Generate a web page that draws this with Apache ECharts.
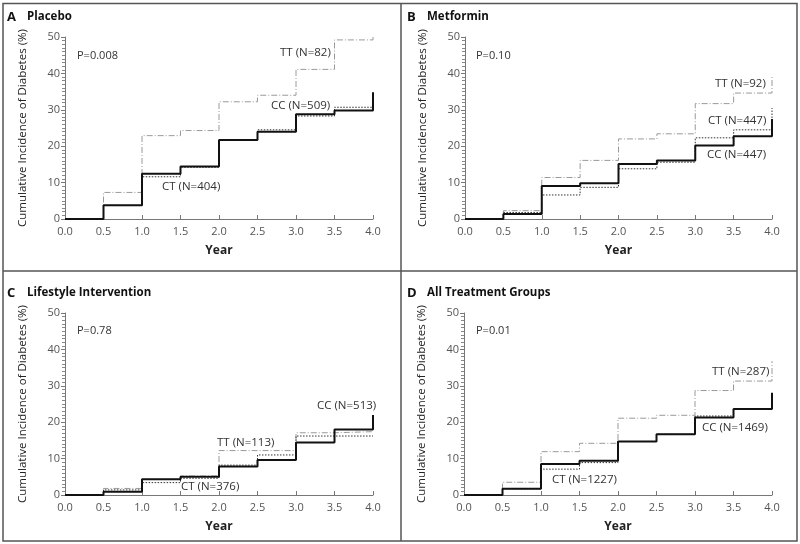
<!DOCTYPE html>
<html><head><meta charset="utf-8">
<script src="https://cdn.jsdelivr.net/npm/echarts@6/dist/echarts.min.js"></script>
<style>html,body{margin:0;padding:0;background:#fff}#c{width:800px;height:544px}</style>
</head><body><div id="c"></div>
<script>
const years = [0, 0.5, 1, 1.5, 2, 2.5, 3, 3.5, 4];
const xTicks = ['0.0','0.5','1.0','1.5','2.0','2.5','3.0','3.5','4.0'];
const yTicks = [0, 10, 20, 30, 40, 50];

const panelLetters = ['A', 'B', 'C', 'D'];
const panelTitles = ['Placebo', 'Metformin', 'Lifestyle Intervention', 'All Treatment Groups'];
const pValues = ['P=0.008', 'P=0.10', 'P=0.78', 'P=0.01'];

const placeboTT = [0, 7.3, 22.9, 24.3, 32.2, 34.0, 41.1, 49.2, 50.0];
const placeboCT = [0, 3.7, 11.6, 14.2, 21.7, 24.5, 28.3, 30.7, 30.7];
const placeboCC = [0, 3.8, 12.4, 14.4, 21.7, 24.0, 28.8, 29.8, 34.8];

const metforminTT = [0, 2.3, 11.4, 16.1, 22.0, 23.4, 31.7, 34.6, 39.3];
const metforminCT = [0, 1.8, 6.6, 8.7, 13.8, 15.6, 22.3, 24.5, 30.5];
const metforminCC = [0, 1.4, 9.1, 9.8, 15.1, 16.1, 20.2, 22.7, 27.5];

const lifestyleTT = [0, 1.8, 4.3, 5.2, 12.2, 12.2, 17.1, 17.4, 17.4];
const lifestyleCT = [0, 1.4, 3.4, 4.6, 8.2, 11.0, 16.2, 16.2, 16.2];
const lifestyleCC = [0, 0.9, 4.3, 5.0, 7.8, 9.6, 14.4, 18.0, 22.0];

const allTT = [0, 3.5, 11.9, 14.2, 21.1, 21.9, 28.7, 31.3, 36.8];
const allCT = [0, 1.7, 7.1, 8.9, 14.7, 16.7, 21.7, 23.6, 26.0];
const allCC = [0, 1.7, 8.5, 9.4, 14.7, 16.7, 21.3, 23.6, 28.1];

const labelsTT = ['TT (N=82)', 'TT (N=92)', 'TT (N=113)', 'TT (N=287)'];
const labelsCT = ['CT (N=404)', 'CT (N=447)', 'CT (N=376)', 'CT (N=1227)'];
const labelsCC = ['CC (N=509)', 'CC (N=447)', 'CC (N=513)', 'CC (N=1469)'];

const panels = [
  [placeboTT, placeboCT, placeboCC],
  [metforminTT, metforminCT, metforminCC],
  [lifestyleTT, lifestyleCT, lifestyleCC],
  [allTT, allCT, allCC]
];

const FONT = '"Open Sans", sans-serif';
const grids = [
  {left: 65, top: 37, width: 308, height: 182},
  {left: 465, top: 37, width: 307, height: 182},
  {left: 65, top: 313, width: 308, height: 182},
  {left: 464, top: 313, width: 308, height: 182}
];

const xAxes = grids.map((g, i) => ({
  type: 'value', gridIndex: i, min: 0, max: 4, interval: 0.5,
  name: 'Year', nameLocation: 'middle', nameGap: 26,
  nameTextStyle: {fontFamily: FONT, fontWeight: 'bold', fontSize: 12, color: '#222'},
  axisLine: {show: true, lineStyle: {color: '#777', width: 1}},
  axisTick: {show: true, inside: true, length: 4, lineStyle: {color: '#777'}},
  axisLabel: {fontFamily: FONT, fontSize: 11, color: '#555', margin: 7,
    formatter: v => xTicks[Math.round(v * 2)]},
  splitLine: {show: false}
}));
const yAxes = grids.map((g, i) => ({
  type: 'value', gridIndex: i, min: 0, max: 50, interval: 10,
  name: 'Cumulative Incidence of Diabetes (%)', nameLocation: 'middle', nameGap: 36,
  nameTextStyle: {fontFamily: FONT, fontSize: 11.5, color: '#222'},
  axisLine: {show: true, lineStyle: {color: '#777', width: 1}},
  axisTick: {show: true, length: 4, lineStyle: {color: '#777'}},
  minorTick: {show: true, splitNumber: 10, length: 3, lineStyle: {color: '#888'}},
  axisLabel: {fontFamily: FONT, fontSize: 11, color: '#555', margin: 5,
    formatter: v => yTicks.includes(v) ? String(v) : ''},
  splitLine: {show: false}
}));

const styles = [
  {color: '#9a9a9a', width: 1, type: [6, 2, 1, 2]},
  {color: '#333', width: 1, type: [1.5, 1.5]},
  {color: '#111', width: 2, type: 'solid'}
];
const series = [];
panels.forEach((p, i) => {
  p.forEach((vals, k) => {
    series.push({
      type: 'line', xAxisIndex: i, yAxisIndex: i, step: 'end', symbol: 'none',
      data: years.map((x, j) => [x, vals[j]]),
      lineStyle: styles[k], z: 2 + k, silent: true, animation: false
    });
  });
});

const txt = (x, y, t, opt) => Object.assign({type: 'text', x: x, y: y,
  style: Object.assign({text: t, fontFamily: FONT, fontSize: 11.5, fill: '#333', textVerticalAlign: 'middle'}, opt || {})});

const offs = [[0, 0], [400, 0], [0, 276], [400, 276]];
const graphic = [
  {type: 'rect', shape: {x: 3, y: 3.5, width: 794, height: 537.5}, style: {fill: 'none', stroke: '#555', lineWidth: 1.5}},
  {type: 'line', shape: {x1: 401, y1: 3.5, x2: 401, y2: 541}, style: {stroke: '#555', lineWidth: 1.5}},
  {type: 'line', shape: {x1: 3, y1: 271, x2: 797, y2: 271}, style: {stroke: '#555', lineWidth: 1.5}}
];
offs.forEach((o, i) => {
  graphic.push(txt(o[0] + 7, o[1] + 17, panelLetters[i], {fontWeight: 'bold', fontSize: 13, fill: '#111'}));
  graphic.push(txt(o[0] + 27, o[1] + 17, panelTitles[i], {fontWeight: 'bold', fontSize: 11.5, fill: '#111'}));
});
graphic.push(txt(77, 56, pValues[0], {fontSize: 11}));
graphic.push(txt(476, 56, pValues[1], {fontSize: 11}));
graphic.push(txt(77, 331, pValues[2], {fontSize: 11}));
graphic.push(txt(476, 331, pValues[3], {fontSize: 11}));
graphic.push(txt(280, 53, labelsTT[0]));
graphic.push(txt(162, 187, labelsCT[0]));
graphic.push(txt(271, 106, labelsCC[0]));
graphic.push(txt(715, 84, labelsTT[1]));
graphic.push(txt(708, 121, labelsCT[1]));
graphic.push(txt(707, 155, labelsCC[1]));
graphic.push(txt(217, 443, labelsTT[2]));
graphic.push(txt(181, 487, labelsCT[2]));
graphic.push(txt(317, 406, labelsCC[2]));
graphic.push(txt(712, 372, labelsTT[3]));
graphic.push(txt(552, 480, labelsCT[3]));
graphic.push(txt(702, 428, labelsCC[3]));

const chart = echarts.init(document.getElementById('c'), null, {renderer: 'canvas'});
chart.setOption({
  animation: false,
  grid: grids,
  xAxis: xAxes,
  yAxis: yAxes,
  series: series,
  graphic: graphic
});
</script></body></html>
